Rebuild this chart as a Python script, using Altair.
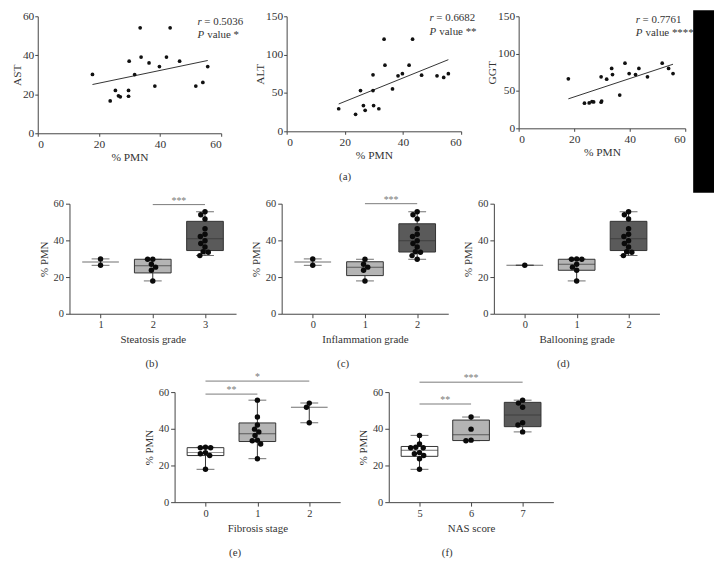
import altair as alt
import numpy as np
import pandas as pd

# ---------------- data ----------------
PMN = [17.9, 23.7, 25.4, 26.4, 27.0, 29.7, 29.7, 29.9, 31.7, 33.5,
       33.8, 36.4, 38.3, 39.8, 42.1, 43.3, 46.4, 51.7, 54.0, 55.6]
AST = [30.2, 16.6, 22.0, 19.2, 18.7, 22.0, 19.0, 37.0, 30.1, 54.1,
       39.1, 36.1, 24.2, 34.2, 39.1, 54.1, 37.0, 24.2, 26.1, 34.2]
ALT = [29.4, 22.1, 53.1, 33.5, 27.4, 73.6, 53.1, 33.5, 29.4, 120.2,
       86.2, 55.2, 72.3, 75.2, 86.2, 120.2, 73.2, 72.3, 70.3, 75.2]
GGT = [66.3, 33.6, 34.0, 35.8, 35.3, 34.9, 68.9, 36.6, 65.8, 80.2,
       71.9, 44.5, 87.2, 73.3, 71.9, 80.2, 68.9, 87.2, 80.2, 73.3]

STEATOSIS = [2, 2, 2, 1, 2, 2, 2, 1, 3, 3, 3, 3, 3, 3, 3, 3, 3, 3, 3, 3]
INFLAMMATION = [1, 1, 1, 0, 1, 1, 2, 0, 2, 2, 2, 2, 2, 2, 2, 2, 2, 2, 2, 2]
BALLOONING = [1, 1, 1, 0, 1, 1, 1, 1, 2, 2, 2, 2, 2, 2, 2, 2, 2, 2, 2, 2]
FIBROSIS = [0, 1, 0, 0, 0, 0, 0, 0, 1, 1, 1, 1, 1, 1, 1, 2, 1, 2, 2, 1]
NAS = [5, 5, 5, 5, 5, 5, 5, 5, 5, 6, 6, 5, 7, 6, 7, 7, 6, 7, 7, 7]

PMN_TICKS = [0, 20, 40, 60]
AST_TICKS = [0, 20, 40, 60]
ENZ_TICKS = [0, 50, 100, 150]

R_VALUES = ["0.5036", "0.6682", "0.7761"]
P_STARS = ["*", "**", "****"]

SIG_STEATOSIS = {"a": [2], "b": [3], "y": [59.5], "t": ["***"]}
SIG_INFLAMMATION = {"a": [1], "b": [2], "y": [60.0], "t": ["***"]}
SIG_BALLOONING = {"a": [], "b": [], "y": [], "t": []}
SIG_FIBROSIS = {"a": [0, 0], "b": [1, 2], "y": [58.9, 66.0], "t": ["**", "*"]}
SIG_NAS = {"a": [5, 5], "b": [6, 7], "y": [53.5, 65.4], "t": ["**", "***"]}

FONT = "Liberation Serif"
INK = "#333333"
SIGC = "#7a7a7a"
FILLS = ["#ffffff", "#b4b4b4", "#5a5a5a"]
LEFT = -30


def one():
    return pd.DataFrame({"z": [0]})


def text_at(x, y, s, size=11, style="normal", align="left",
            baseline="alphabetic", color=INK):
    return alt.Chart(one()).mark_text(
        font=FONT, fontSize=size, fontStyle=style, align=align,
        baseline=baseline, color=color
    ).encode(x=alt.value(x), y=alt.value(y), text=alt.value(s))


def ghost(x0, x1, y0, y1):
    # invisible box, only used to fix the layout bounds of a row
    return alt.Chart(one()).mark_rect(opacity=0).encode(
        x=alt.value(x0), x2=alt.value(x1), y=alt.value(y0), y2=alt.value(y1))


def spacer(w, top=0, bottom=10):
    return ghost(LEFT, w, top, bottom).properties(width=w, height=10)


def scatter_panel(vals, name, ticks, w, h, r, p, tx, tyr, typ, extra=None):
    df = pd.DataFrame({"pmn": PMN, "v": vals})
    xs = alt.Scale(domain=[0, 60], nice=False, zero=False)
    ys = alt.Scale(domain=[ticks[0], ticks[-1]], nice=False)
    xax = alt.Axis(values=PMN_TICKS, tickSize=3, labelPadding=2, titlePadding=2,
                   labelFontSize=11.5, titleFontSize=11.5)
    yax = alt.Axis(values=ticks, tickSize=3, labelPadding=1, titlePadding=0,
                   labelFontSize=11.5, titleFontSize=11.5)

    def X(f):
        return alt.X(f, type="quantitative", scale=xs, axis=xax, title="% PMN")

    def Y(f):
        return alt.Y(f, type="quantitative", scale=ys, axis=yax, title=name)

    pts = alt.Chart(df).mark_circle(size=14, color="#111111", opacity=1).encode(
        x=X("pmn"), y=Y("v"))
    fit = alt.Chart(df).transform_regression("pmn", "v").mark_line(
        color=INK, strokeWidth=1).encode(x=X("pmn"), y=Y("v"))
    layers = [fit, pts,
              text_at(tx, tyr, "r", style="italic"),
              text_at(tx + 7, tyr, "= " + r),
              text_at(tx, typ, "P", style="italic"),
              text_at(tx + 10, typ, "value " + p)]
    if extra:
        layers += extra
    return alt.layer(*layers).properties(width=w, height=h)


def swarm(values, ppy, diam=5.2, step=0.5):
    idx = np.argsort(values)[::-1]
    placed = []
    offs = np.zeros(len(values))
    for i in idx:
        yp = values[i] * ppy
        k = 0
        while True:
            c = 0.0 if k == 0 else ((k + 1) // 2) * step * (-1 if k % 2 else 1)
            if all((c - ox) ** 2 + (yp - oy) ** 2 >= diam ** 2 for ox, oy in placed):
                break
            k += 1
        placed.append((c, yp))
        offs[i] = c
    return offs


def box_panel(grades, order, xtitle, sig, lab, lxy, w, h=111):
    lo, hi = order[0] - 0.5, order[-1] + 0.5
    ppx = w / (hi - lo)
    ppy = h / 60.0
    df = pd.DataFrame({"g": grades, "pmn": PMN})
    df["xj"] = df["g"].astype(float)
    stats = []
    for k, g in enumerate(order):
        sel = df["g"] == g
        v = df.loc[sel, "pmn"].to_numpy()
        offs = swarm(v, ppy)
        df.loc[sel, "xj"] = g + offs / ppx
        q1, med, q3 = np.percentile(v, [25, 50, 75], method="weibull")
        stats.append({"g": g, "n": len(v), "lo": v.min(), "q1": q1, "med": med,
                      "q3": q3, "hi": v.max(), "fill": FILLS[k]})
    st = pd.DataFrame(stats)
    xs = alt.Scale(domain=[lo, hi], nice=False, zero=False)
    ys = alt.Scale(domain=[0, 60], nice=False)
    xax = alt.Axis(values=order, format="d", tickSize=4, labelPadding=2,
                   titlePadding=4, labelFontSize=10.5, titleFontSize=11)
    yax = alt.Axis(values=[0, 20, 40, 60], tickSize=4, labelPadding=2,
                   titlePadding=4, labelFontSize=10.5, titleFontSize=11)

    def X(f):
        return alt.X(f, type="quantitative", scale=xs, axis=xax, title=xtitle)

    def Y(f):
        return alt.Y(f, type="quantitative", scale=ys, axis=yax, title="% PMN")

    whisk = alt.Chart(st).mark_rule(color=INK, strokeWidth=1).encode(
        x=X("g"), y=Y("lo"), y2="hi")
    box = alt.Chart(st).transform_filter("datum.n >= 4").mark_bar(
        size=37, stroke=INK, strokeWidth=1).encode(
        x=X("g"), y=Y("q1"), y2="q3", color=alt.Color("fill:N", scale=None))
    med = alt.Chart(st).mark_tick(orient="horizontal", size=37, thickness=1,
                                  color=INK).encode(x=X("g"), y=Y("med"))
    cap_lo = alt.Chart(st).mark_tick(orient="horizontal", size=18, thickness=1,
                                     color=INK).encode(x=X("g"), y=Y("lo"))
    cap_hi = alt.Chart(st).mark_tick(orient="horizontal", size=18, thickness=1,
                                     color=INK).encode(x=X("g"), y=Y("hi"))
    pts = alt.Chart(df).mark_circle(size=30, color="#0a0a0a", opacity=1).encode(
        x=X("xj"), y=Y("pmn"))
    layers = [whisk, box, med, cap_lo, cap_hi, pts]
    if len(sig["a"]):
        sd = pd.DataFrame(sig)
        sd["mid"] = (sd["a"] + sd["b"]) / 2
        layers.append(alt.Chart(sd).mark_rule(color=SIGC, strokeWidth=1).encode(
            x=X("a"), x2="b", y=Y("y")))
        layers.append(alt.Chart(sd).mark_text(
            font=FONT, fontSize=10, color=SIGC, baseline="alphabetic", dy=-1).encode(
            x=X("mid"), y=Y("y"), text="t:N"))
    layers.append(text_at(lxy[0], lxy[1], lab, align="center", baseline="middle"))
    return alt.layer(*layers).properties(width=w, height=h)


black = alt.Chart(one()).mark_rect(color="#000000").encode(
    x=alt.value(176), x2=alt.value(197), y=alt.value(-6), y2=alt.value(178))

p_ast = scatter_panel(AST, "AST", AST_TICKS, 185, 118, R_VALUES[0], P_STARS[0], 161, 9, 22,
                      extra=[ghost(LEFT, 0, 0, 10)])
p_alt = scatter_panel(ALT, "ALT", ENZ_TICKS, 176, 116, R_VALUES[1], P_STARS[1], 144, 5, 19,
                      extra=[text_at(59, 162, "(a)", align="center", baseline="middle")])
p_ggt = scatter_panel(GGT, "GGT", ENZ_TICKS, 168, 113, R_VALUES[2], P_STARS[2], 118, 7, 20,
                      extra=[black])

p_b = box_panel(STEATOSIS, [1, 2, 3], "Steatosis grade", SIG_STEATOSIS, "(b)", (83, 162), 168)
p_c = box_panel(INFLAMMATION, [0, 1, 2], "Inflammation grade", SIG_INFLAMMATION, "(c)", (62, 162), 168)
p_d = box_panel(BALLOONING, [0, 1, 2], "Ballooning grade", SIG_BALLOONING, "(d)", (70, 162), 167)
p_e = box_panel(FIBROSIS, [0, 1, 2], "Fibrosis stage", SIG_FIBROSIS, "(e)", (61, 162), 167)
p_f = box_panel(NAS, [5, 6, 7], "NAS score", SIG_NAS, "(f)", (59, 162), 166)


def row(*charts):
    return alt.hconcat(*charts, spacing=0, bounds="flush").resolve_scale(
        x="independent", y="independent", color="independent")


row1 = row(p_ast, spacer(66), p_alt, spacer(58), p_ggt)
row2 = row(spacer(32, -11, 168), p_b, spacer(46), p_c, spacer(46), p_d)
row3 = row(spacer(138, -22, 168), p_e, spacer(49), p_f)

chart = alt.vconcat(
    row1, row2, row3, spacing=0, bounds="full"
).resolve_scale(
    x="independent", y="independent", color="independent"
).properties(padding=0).configure_view(stroke=None).configure_axis(
    labelFont=FONT, titleFont=FONT, labelColor=INK, titleColor=INK,
    domainColor="#444444", tickColor="#444444", grid=False,
    titleFontWeight="normal", domainWidth=1, tickWidth=1
)

chart.save("out.html", embed_options={"renderer": "svg", "actions": False})
